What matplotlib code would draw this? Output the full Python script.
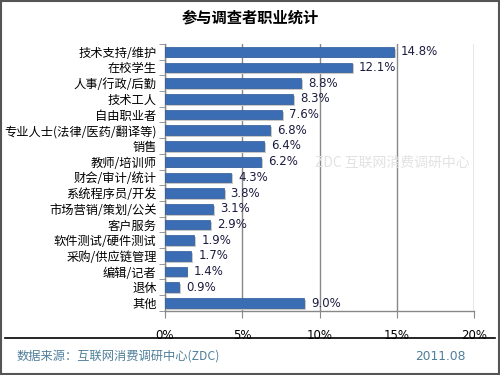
import numpy as np
import matplotlib
matplotlib.use('Agg')
import matplotlib.pyplot as plt
from matplotlib.patches import Rectangle
from matplotlib.lines import Line2D

plt.rcParams['font.family'] = ['Noto Sans CJK SC', 'DejaVu Sans']

categories = ['技术支持/维护', '在校学生', '人事/行政/后勤', '技术工人', '自由职业者',
              '专业人士(法律/医药/翻译等)', '销售', '教师/培训师', '财会/审计/统计',
              '系统程序员/开发', '市场营销/策划/公关', '客户服务', '软件测试/硬件测试',
              '采购/供应链管理', '编辑/记者', '退休', '其他']
values = [14.8, 12.1, 8.8, 8.3, 7.6, 6.8, 6.4, 6.2, 4.3, 3.8, 3.1, 2.9, 1.9, 1.7, 1.4, 0.9, 9.0]
xticks = [0, 5, 10, 15, 20]

fig = plt.figure(figsize=(5, 3.75), dpi=100)
ax = fig.add_axes([0.33, 0.171, 0.618, 0.712])

y = np.arange(len(categories))
# soft shadow then bars
ax.barh(y + 0.12, values, height=0.62, left=0.12, color='#c8c8c8', zorder=2)
ax.barh(y, values, height=0.62, color='#3a6db4', edgecolor='#2d5a98', linewidth=0.5, zorder=3)

for yi, v in zip(y, values):
    ax.text(v + 0.45, yi, f'{v:.1f}%', va='center', ha='left', fontsize=8.5,
            color='#1c1c40', family=['DejaVu Sans'], zorder=4)

ax.set_xlim(0, 20)
ax.set_ylim(len(categories) - 0.5, -0.5)
ax.set_xticks(xticks)
ax.set_xticklabels([f'{t}%' for t in xticks], fontsize=8.5, family=['DejaVu Sans'])
ax.set_yticks(y)
ax.set_yticklabels(categories, fontsize=8.8)
ax.tick_params(axis='y', length=0, pad=6)
ax.set_yticks(np.arange(len(categories) + 1) - 0.5, minor=True)
ax.tick_params(axis='y', which='minor', length=4, color='#888888', direction='out')
ax.tick_params(axis='x', length=5, color='#888888', pad=8, direction='out')
ax.grid(axis='x', color='#888888', linewidth=1.0, zorder=1)
ax.set_axisbelow(True)
for s in ['top', 'right']:
    ax.spines[s].set_visible(False)
for s in ['left', 'bottom']:
    ax.spines[s].set_color('#888888')
    ax.spines[s].set_linewidth(1.0)

# faint watermark, kept clear of the value labels
fig.text(0.785, 0.565, 'ZDC 互联网消费调研中心', fontsize=10, color='#e2e2e2',
         ha='center', va='center', zorder=0)

fig.suptitle('参与调查者职业统计', x=0.5, y=0.975, fontsize=11, fontweight='bold')

fig.add_artist(Line2D([0.01, 0.99], [0.099, 0.099], color='black', linewidth=1.2))
fig.text(0.034, 0.05, '数据来源：互联网消费调研中心(ZDC)', fontsize=8.8, color='#4f7f9a',
         va='center', ha='left')
fig.text(0.932, 0.05, '2011.08', fontsize=8.8, color='#4f7f9a', va='center', ha='right',
         family=['DejaVu Sans'])

fig.add_artist(Rectangle((0.002, 0.002), 0.996, 0.996, transform=fig.transFigure,
                         fill=False, edgecolor='#555555', linewidth=1.5))

fig.savefig('out.png', dpi=100)
